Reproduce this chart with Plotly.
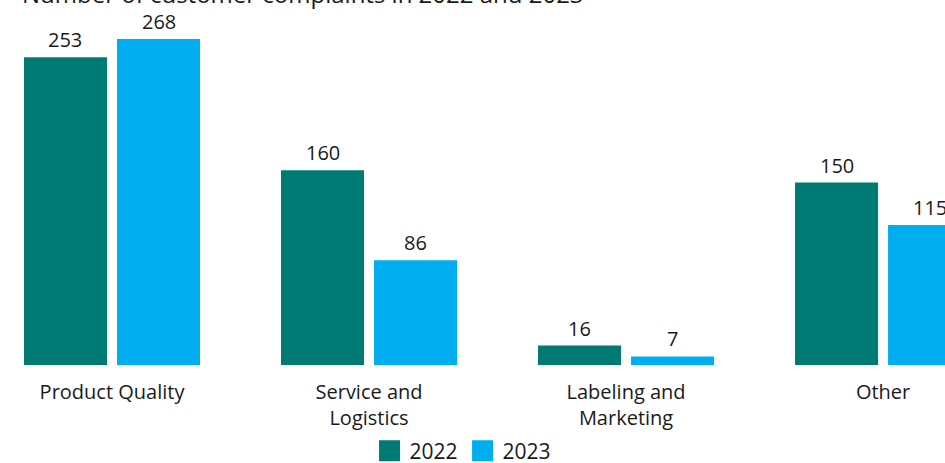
import plotly.graph_objects as go

categories = ["Product Quality", "Service and<br>Logistics", "Labeling and<br>Marketing", "Other"]
years = ["2022", "2023"]
complaints_2022 = [253, 160, 16, 150]
complaints_2023 = [268, 86, 7, 115]
colors = {"2022": "#007B73", "2023": "#00AEEF"}

FONT = "Open Sans"
TEXT_COLOR = "#1a1a1a"

fig = go.Figure()
series = {"2022": complaints_2022, "2023": complaints_2023}
for yr in years:
    fig.add_trace(go.Bar(
        x=categories, y=series[yr], name=yr,
        marker=dict(color=colors[yr], line=dict(width=0)),
        showlegend=False,
    ))
    # legend entry drawn as a large square marker
    fig.add_trace(go.Scatter(
        x=[None], y=[None], mode="markers", name=yr,
        marker=dict(symbol="square", size=16, color=colors[yr],
                    line=dict(width=5, color=colors[yr])),
    ))

# value labels above each bar
slot = (1 - 0.276) / 2
for i, yr in enumerate(years):
    offset = (i - 0.5) * slot
    for j, cat in enumerate(categories):
        fig.add_annotation(
            x=j + offset, y=series[yr][j], text=str(series[yr][j]),
            showarrow=False, yanchor="bottom", yshift=2,
            font=dict(family=FONT, size=20, color=TEXT_COLOR),
        )

fig.add_annotation(
    xref="paper", yref="paper", x=0.0, y=1, xanchor="left", yanchor="bottom",
    xshift=20, yshift=-12,
    text="Number of customer complaints in 2022 and 2023",
    showarrow=False, font=dict(family=FONT, size=24, color=TEXT_COLOR),
)

fig.update_layout(
    width=945, height=463,
    margin=dict(l=0, r=0, t=0, b=98, autoexpand=False),
    paper_bgcolor="white", plot_bgcolor="white",
    barmode="group", bargap=0.276, bargroupgap=0.1075,
    font=dict(family=FONT, size=20, color=TEXT_COLOR),
    xaxis=dict(
        range=[-0.4358, 3.241], showgrid=False, showline=False, zeroline=False,
        ticks="", ticklabelstandoff=13, tickfont=dict(size=20),
    ),
    yaxis=dict(range=[0, 300], visible=False),
    legend=dict(
        orientation="h", x=0.49, xanchor="center", yref="container",
        y=0.07, yanchor="top", font=dict(size=21), itemsizing="trace",
    ),
)

fig.write_html("out.html")
